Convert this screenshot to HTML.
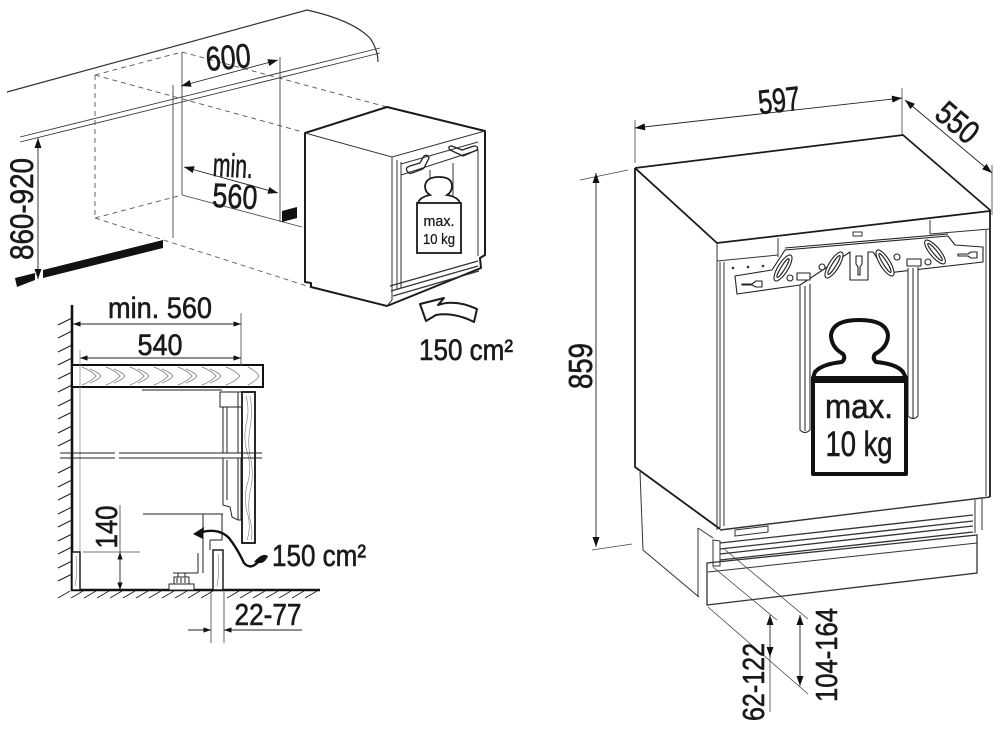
<!DOCTYPE html>
<html><head><meta charset="utf-8"><style>
html,body{margin:0;padding:0;background:#fff;}
svg{display:block;}
text{font-family:"Liberation Sans",sans-serif;fill:#1a1a1a;stroke:#1a1a1a;stroke-width:0.6;}
text.sm{stroke-width:0.25;}
</style></head><body>
<svg width="1000" height="749" viewBox="0 0 1000 749" xmlns="http://www.w3.org/2000/svg">
<defs>
<marker id="ar" viewBox="0 0 10 8" refX="10" refY="4" markerWidth="11" markerHeight="8" markerUnits="userSpaceOnUse" orient="auto-start-reverse"><path d="M0,0.5 L10,4 L0,7.5 z" fill="#111"/></marker>
<marker id="as" viewBox="0 0 10 8" refX="10" refY="4" markerWidth="8" markerHeight="6" markerUnits="userSpaceOnUse" orient="auto-start-reverse"><path d="M0,0.5 L10,4 L0,7.5 z" fill="#111"/></marker>
</defs>

<!-- ================= TOP-LEFT DIAGRAM ================= -->
<g fill="none" stroke="#333" stroke-width="1.2">
  <path d="M7,92 L307,10 Q352,20 370,38 Q378,50 378,62"/>
  <path d="M20,137 L380,48" stroke-width="0.9"/>
  <path d="M20,142 L380,53" stroke-width="0.9"/>
</g>
<g fill="none" stroke="#555" stroke-width="0.9" stroke-dasharray="5 4">
  <path d="M95,75 L182,52 M182,52 L387,107 M95,75 L303,132 M95,75 L95,218 M95,218 L182,195 M95,218 L310,287"/>
</g>
<g fill="none" stroke="#444" stroke-width="0.9">
  <path d="M182,52 V195 M173,85 V238 M280,57 V222 M182,195 L302,227"/>
</g>
<path d="M181,86 L278,60" stroke="#222" stroke-width="0.9" marker-start="url(#ar)" marker-end="url(#ar)"/>
<path d="M184,167 L278,193" stroke="#222" stroke-width="0.9" marker-start="url(#ar)" marker-end="url(#ar)"/>
<path d="M38,138 L38,279" stroke="#222" stroke-width="0.9" marker-start="url(#ar)" marker-end="url(#ar)"/>
<polygon points="15,278 35,273 35,280 17,287" fill="#111"/>
<polygon points="43,270 163,240 163,248 43,278" fill="#111"/>
<polygon points="282,211 297,207 297,218 282,222" fill="#111"/>

<text x="228" y="69" font-size="34" text-anchor="middle" textLength="45" lengthAdjust="spacingAndGlyphs" transform="rotate(-5 228 56)">600</text>
<text x="233" y="177" font-size="33" text-anchor="middle" textLength="40" lengthAdjust="spacingAndGlyphs" transform="rotate(3 233 165)">min.</text>
<text x="235" y="208" font-size="34" text-anchor="middle" textLength="45" lengthAdjust="spacingAndGlyphs" transform="rotate(3 235 196)">560</text>
<text transform="translate(22,209) rotate(-90)" x="0" y="11" font-size="32" text-anchor="middle" textLength="102" lengthAdjust="spacingAndGlyphs">860-920</text>

<!-- small appliance -->
<g fill="none" stroke="#1a1a1a" stroke-width="2" stroke-linejoin="round">
  <path d="M305,133 L387,107 L485,131 L485,255 L480,258 L481,268 L387,306 L311,287 L311,283 L305,282 Z" fill="#fff"/>
</g>
<g fill="none" stroke="#333" stroke-width="1">
  <path d="M305,133 L392,157 L485,131"/>
  <path d="M392,157 V292 M397,160 V290 M401,162 V288"/>
  <path d="M401,175 L478,150 V256"/>
  <path d="M478,142 L401,164"/>
  <path d="M392,157 L392,300 L387,306"/>
  <path d="M390,286 L478,261 M391,291 L478,266 M393,296 L479,271" stroke-width="1.2"/>
  <path d="M430,170 V200 M453,163 V200"/>
</g>
<!-- handles -->
<g fill="none" stroke="#222" stroke-width="1.3">
  <path d="M408,172 Q404,168 410,166 L420,163 L424,156 Q428,154 429,158 L425,166 Q424,169 420,170 L412,173 Q409,174 408,172 Z"/>
  <path d="M450,150 Q447,146 452,146 L462,150 L474,146 Q479,146 477,150 L463,156 Z"/>
</g>
<!-- small weight -->
<g fill="#fff" stroke="#1a1a1a" stroke-width="1.8">
  <path d="M418,203 Q420,197 430,195 Q425,192 425,186 Q426,177 439,177 Q452,177 452,186 Q452,192 447,195 Q458,197 460,203"/>
  <rect x="417" y="203" width="44" height="50"/>
</g>
<text class="sm" x="439" y="226" font-size="15" text-anchor="middle" textLength="31" lengthAdjust="spacingAndGlyphs">max.</text>
<text class="sm" x="439" y="244" font-size="15" text-anchor="middle" textLength="32" lengthAdjust="spacingAndGlyphs">10 kg</text>
<!-- hollow arrow -->
<path d="M420,304 L444,298 L438,305 Q455,299 477,309 L474,322 Q454,312 436,315 L426,321 Z" fill="#fff" stroke="#1a1a1a" stroke-width="2" stroke-linejoin="round"/>
<text x="466" y="360" font-size="30" text-anchor="middle" textLength="94" lengthAdjust="spacingAndGlyphs">150 cm²</text>

<!-- ================= SECTION DIAGRAM ================= -->
<g stroke="#222" stroke-width="1" fill="none">
  <path d="M58,325 L72,318 M58,338 L72,331 M58,352 L72,345 M58,365 L72,358 M58,379 L72,372 M58,392 L72,385 M58,406 L72,399 M58,419 L72,412 M58,433 L72,426 M58,446 L72,439 M58,473 L72,466 M58,487 L72,480 M58,500 L72,493 M58,514 L72,507 M58,527 L72,520 M58,541 L72,534 M58,554 L72,547 M58,568 L72,561 M58,581 L72,574"/>
  <path d="M58,598 L70,591 M71,598 L83,591 M84,598 L96,591 M97,598 L109,591 M110,598 L122,591 M123,598 L135,591 M136,598 L148,591 M149,598 L161,591 M162,598 L174,591 M175,598 L187,591 M188,598 L200,591 M201,598 L213,591 M227,598 L239,591 M240,598 L252,591 M253,598 L265,591 M266,598 L278,591 M279,598 L291,591 M292,598 L304,591 M305,598 L317,591"/>
</g>
<path d="M72,305 V591" stroke="#111" stroke-width="2.6"/>
<path d="M71,590 H320" stroke="#111" stroke-width="2.4"/>

<!-- countertop -->
<rect x="72" y="365" width="191" height="22" fill="#fff" stroke="#111" stroke-width="2"/>
<g fill="none" stroke="#777" stroke-width="0.7">
  <path d="M82,367 Q92,371 96,376 Q92,381 82,385 M106,367 Q116,371 120,376 Q116,381 106,385 M130,367 Q140,371 144,376 Q140,381 130,385 M154,367 Q164,371 168,376 Q164,381 154,385 M178,367 Q188,371 192,376 Q188,381 178,385 M202,367 Q212,371 216,376 Q212,381 202,385 M226,367 Q236,371 240,376 Q236,381 226,385 M248,367 Q256,371 259,376 Q256,381 248,385"/>
  <path d="M90,369 Q98,372 101,376 Q98,380 90,383 M114,369 Q122,372 125,376 Q122,380 114,383 M138,369 Q146,372 149,376 Q146,380 138,383 M162,369 Q170,372 173,376 Q170,380 162,383 M186,369 Q194,372 197,376 Q194,380 186,383 M210,369 Q218,372 221,376 Q218,380 210,383"/>
</g>

<!-- dims section -->
<text x="160" y="318" font-size="30" text-anchor="middle" textLength="104" lengthAdjust="spacingAndGlyphs">min. 560</text>
<path d="M73,324 L241,324" stroke="#222" stroke-width="0.9" marker-start="url(#as)" marker-end="url(#as)"/>
<path d="M241,313 V366" stroke="#444" stroke-width="0.8"/>
<text x="160" y="355" font-size="30" text-anchor="middle" textLength="45" lengthAdjust="spacingAndGlyphs">540</text>
<path d="M80,358 L241,358" stroke="#222" stroke-width="0.9" marker-start="url(#as)" marker-end="url(#as)"/>
<path d="M80,350 V590" stroke="#888" stroke-width="0.7"/>

<!-- door wood panel -->
<rect x="242" y="392" width="13" height="151" fill="#fff" stroke="#111" stroke-width="1.8"/>
<g fill="none" stroke="#777" stroke-width="0.6">
  <path d="M246,396 Q250,410 246,425 Q243,440 248,455 Q252,470 247,485 Q243,500 248,515 Q251,528 247,540"/>
  <path d="M250,396 Q253,412 250,428 Q247,444 251,460 Q254,476 250,492 Q247,508 251,524 Q253,534 251,540"/>
</g>

<!-- appliance internals -->
<g fill="none" stroke="#222" stroke-width="1">
  <path d="M142,390 H222"/>
  <path d="M220,392 H242 V407 H220 Z"/>
  <path d="M223,407 V453 M227,407 V453 M238,392 V453"/>
  <path d="M223,458 V505 L230,507 L232,517 L238,520 L242,520 M227,460 V500 M238,458 V520 M241,458 V520"/>
  <path d="M143,514 H223 M203,514 V573 M198,553 V573 M173,573 H198"/>
  <path d="M210,540 H222 V514"/>
  <path d="M210,540 V550"/>
</g>
<!-- break lines -->
<g stroke="#222" stroke-width="1.1">
  <path d="M60,453 H115 M119,453 H262 M60,458 H115 M119,458 H262"/>
</g>
<!-- small plinth woods -->
<rect x="72" y="552" width="8" height="38" fill="#fff" stroke="#111" stroke-width="1.4"/>
<rect x="213" y="550" width="10" height="40" fill="#fff" stroke="#111" stroke-width="1.4"/>
<path d="M76,556 Q78,570 75,586 M218,554 Q220,570 217,586" stroke="#777" stroke-width="0.6" fill="none"/>
<!-- foot -->
<g fill="#fff" stroke="#222" stroke-width="1">
  <rect x="169" y="584" width="25" height="6"/>
  <rect x="174" y="577" width="15" height="7"/>
  <rect x="178" y="573" width="7" height="4"/>
  <path d="M177,578 V583 M181,578 V583 M185,578 V583"/>
</g>
<!-- 140 dim -->
<path d="M83,552 H140" stroke="#444" stroke-width="0.8"/>
<path d="M120,505 V552" stroke="#444" stroke-width="0.8"/>
<path d="M120,552 V590" stroke="#222" stroke-width="0.9" marker-start="url(#as)" marker-end="url(#as)"/>
<text transform="translate(106,527) rotate(-90)" x="0" y="11" font-size="31" text-anchor="middle" textLength="43" lengthAdjust="spacingAndGlyphs">140</text>
<!-- curved arrow -->
<path d="M262,557 Q252,572 244,563 Q237,548 229,538 Q219,528 202,532" fill="none" stroke="#111" stroke-width="2.4"/>
<path d="M254,562 Q262,552 268,556 Q264,566 254,562 Z" fill="#111"/>
<polygon points="193,534 204,527 203,539" fill="#111"/>
<text x="319" y="566" font-size="31" text-anchor="middle" textLength="94" lengthAdjust="spacingAndGlyphs">150 cm²</text>
<!-- 22-77 -->
<path d="M211,590 V643 M224,590 V643" stroke="#444" stroke-width="0.8"/>
<path d="M188,630 H211" stroke="#222" stroke-width="0.9" marker-end="url(#as)"/>
<path d="M302,630 H224" stroke="#222" stroke-width="0.9" marker-end="url(#as)"/>
<text x="268" y="625" font-size="31" text-anchor="middle" textLength="67" lengthAdjust="spacingAndGlyphs">22-77</text>

<!-- ================= RIGHT FRIDGE ================= -->
<!-- dims -->
<path d="M635,120 V163 M902,88 V135" stroke="#444" stroke-width="0.8"/>
<path d="M635,128 L902,98" stroke="#222" stroke-width="0.9" marker-start="url(#ar)" marker-end="url(#ar)"/>
<text x="779" y="112" font-size="34" text-anchor="middle" textLength="42" lengthAdjust="spacingAndGlyphs" transform="rotate(-6.4 779 100)">597</text>
<path d="M905,100 L992,173" stroke="#222" stroke-width="0.9" marker-start="url(#ar)" marker-end="url(#ar)"/>
<path d="M992,165 V215" stroke="#444" stroke-width="0.8"/>
<text transform="translate(958,122) rotate(40)" x="0" y="12" font-size="33" text-anchor="middle" textLength="45" lengthAdjust="spacingAndGlyphs">550</text>
<path d="M580,180 L628,170 M592,550 L632,544" stroke="#444" stroke-width="0.8"/>
<path d="M596,173 V547" stroke="#222" stroke-width="0.9" marker-start="url(#ar)" marker-end="url(#ar)"/>
<text transform="translate(580,366) rotate(-90)" x="0" y="12" font-size="33" text-anchor="middle" textLength="46" lengthAdjust="spacingAndGlyphs">859</text>

<!-- body -->
<g fill="none" stroke="#1a1a1a" stroke-width="1.8" stroke-linejoin="round">
  <path d="M635,168 L903,135 L990,210 V497"/>
  <path d="M635,168 L717,243 L990,211"/>
  <path d="M635,168 V467 L720,529"/>
</g>
<g fill="none" stroke="#333" stroke-width="1">
  <path d="M717,243 V530 M720,262 V528 M724,262 V526"/>
  <path d="M717,261 L778,255 M930,234 L990,229"/>
  <path d="M778,238 V257 M930,220 V234"/>
  <path d="M853,232 h9 v4 h-9 z"/>
  <path d="M986,230 V496"/>
  <path d="M720,530 L990,497" stroke-width="1.4"/>
  <path d="M975,500 V533 M982,499 V530"/>
  <path d="M735,530 L768,526 L768,532 L735,536 Z"/>
  <path d="M640,472 L643,550 L699,597 M698,528 V597 M698,528 L713,538"/>
  <path d="M707,563 L977,535 V573 L707,605 Z" stroke-width="1.3"/>
  <path d="M708,572 L977,543"/>
  <path d="M713,540 V566 H720 V541 Z"/>
  <path d="M720,543 L973,515 M720,549 L973,521 M720,554 L973,526 M720,560 L973,532" stroke-width="1.3"/>
</g>
<!-- bracket -->
<g fill="#fff" stroke="#222" stroke-width="1.1" stroke-linejoin="round">
  <path d="M735,276 L772,270 L785,250 L948,236 L955,245 L983,247 L983,262 L887,273 L873,252 L868,252 L868,280 L850,280 L850,252 L800,285 L737,294 Z"/>
  <path d="M785,248 L948,234" fill="none"/>
  <ellipse cx="783" cy="268" rx="15" ry="5" transform="rotate(-58 783 268)"/>
  <ellipse cx="783" cy="268" rx="11" ry="2" transform="rotate(-58 783 268)"/>
  <ellipse cx="834" cy="265" rx="15" ry="5" transform="rotate(-58 834 265)"/>
  <ellipse cx="834" cy="265" rx="11" ry="2" transform="rotate(-58 834 265)"/>
  <ellipse cx="885" cy="263" rx="15" ry="5" transform="rotate(58 885 263)"/>
  <ellipse cx="885" cy="263" rx="11" ry="2" transform="rotate(58 885 263)"/>
  <ellipse cx="935" cy="252" rx="15" ry="5" transform="rotate(50 935 252)"/>
  <ellipse cx="935" cy="252" rx="11" ry="2" transform="rotate(50 935 252)"/>
  <circle cx="790" cy="278" r="3"/>
  <circle cx="822" cy="267" r="3"/>
  <circle cx="897" cy="257" r="3"/>
  <circle cx="928" cy="262" r="3"/>
  <rect x="797" y="273" width="13" height="7"/>
  <rect x="907" y="259" width="14" height="7"/>
  <path d="M742,284 h10 l4,-3 h6 v6 h-6 l-4,-2 h-10 z"/>
  <path d="M958,254 h10 l3,-2 h6 v6 h-6 l-3,-2 h-10 z"/>
  <path d="M856,256 h6 v8 l-2,3 v8 h-2 v-8 l-2,-3 z"/>
</g>
<g fill="#333">
  <circle cx="733" cy="268" r="1.3"/><circle cx="748" cy="267" r="1.3"/><circle cx="763" cy="266" r="1.3"/>
</g>
<!-- rails -->
<g fill="#fff" stroke="#222" stroke-width="1">
  <path d="M800,285 V430 Q805,435 810,430 V284"/>
  <path d="M805,286 V431" fill="none"/>
  <path d="M908,268 V416 Q913,421 918,416 V267"/>
  <path d="M913,268 V418" fill="none"/>
</g>
<!-- big weight -->
<g fill="#fff" stroke="#111" stroke-width="4" stroke-linejoin="round">
  <path d="M813,378 L815,372 Q822,364 842,362 Q846,358 843,354 Q831,347 831,335 Q833,320 859,320 Q886,320 888,335 Q888,347 875,354 Q872,358 876,362 Q897,364 903,372 L906,378"/>
  <rect x="813" y="378" width="93" height="96"/>
</g>
<rect x="813" y="376" width="93" height="7" fill="#111"/>
<text x="859" y="418" font-size="34" text-anchor="middle" textLength="68" lengthAdjust="spacingAndGlyphs">max.</text>
<text x="859" y="456" font-size="35" text-anchor="middle" textLength="67" lengthAdjust="spacingAndGlyphs">10 kg</text>

<!-- bottom dims -->
<g stroke="#444" stroke-width="0.8" fill="none">
  <path d="M713,567 L777,620 M723,548 L808,619 M708,607 L808,694"/>
  <path d="M770,655 V712"/>
</g>
<path d="M770,615 V657" stroke="#222" stroke-width="0.9" marker-start="url(#ar)" marker-end="url(#ar)"/>
<path d="M800,615 V686" stroke="#222" stroke-width="0.9" marker-start="url(#ar)" marker-end="url(#ar)"/>
<text transform="translate(753,682) rotate(-90)" x="0" y="11" font-size="31" text-anchor="middle" textLength="78" lengthAdjust="spacingAndGlyphs">62-122</text>
<text transform="translate(826,655) rotate(-90)" x="0" y="11" font-size="31" text-anchor="middle" textLength="94" lengthAdjust="spacingAndGlyphs">104-164</text>
</svg>
</body></html>
